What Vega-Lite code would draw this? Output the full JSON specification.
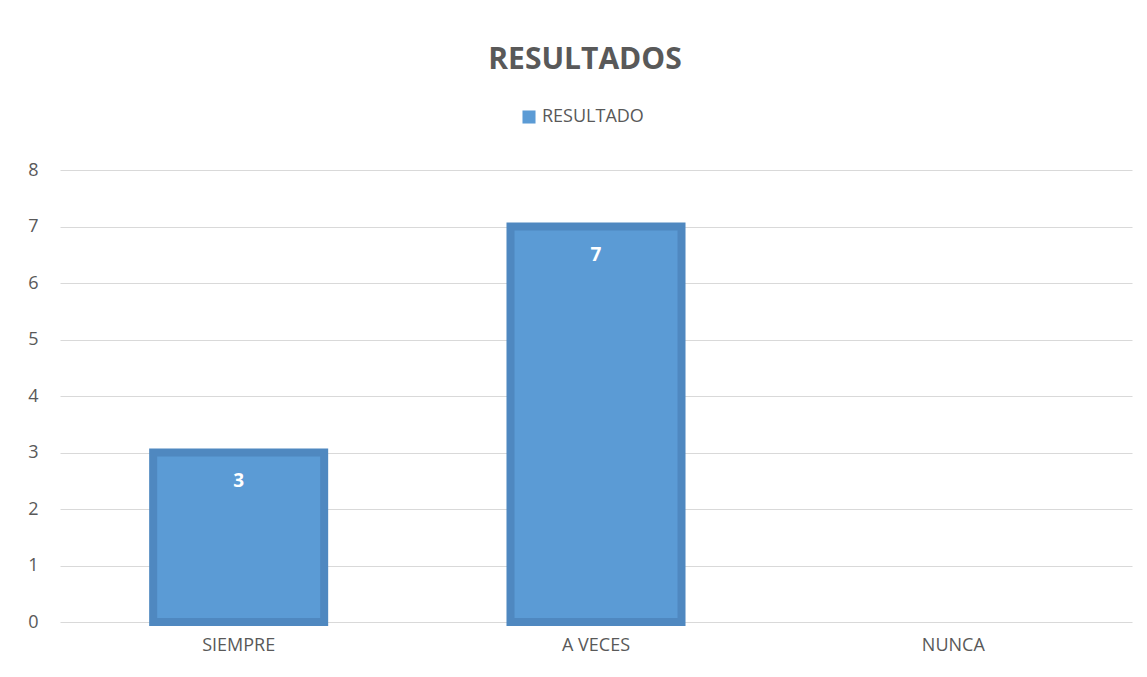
{
  "$schema": "https://vega.github.io/schema/vega-lite/v6.json",
  "autosize": "none",
  "width": 1072,
  "height": 452,
  "padding": {"left": 60, "top": 170, "right": 15, "bottom": 55},
  "background": "white",
  "title": {
    "text": "RESULTADOS",
    "anchor": "middle",
    "font": "Open Sans",
    "fontSize": 30,
    "fontWeight": "bold",
    "color": "#595959",
    "offset": 33,
    "dx": -11
  },
  "config": {
    "view": {"stroke": null},
    "font": "Open Sans"
  },
  "data": {
    "values": [
      {"categoria": "SIEMPRE", "valor": 3, "serie": "RESULTADO"},
      {"categoria": "A VECES", "valor": 7, "serie": "RESULTADO"},
      {"categoria": "NUNCA", "valor": 0, "serie": "RESULTADO"}
    ]
  },
  "encoding": {
    "x": {
      "field": "categoria",
      "type": "nominal",
      "sort": null,
      "scale": {"paddingInner": 0.5214, "paddingOuter": 0.2607},
      "axis": {
        "title": null,
        "labelAngle": 0,
        "labelFontSize": 18,
        "labelColor": "#595959",
        "labelPadding": 14,
        "ticks": false,
        "domain": false,
        "grid": false
      }
    },
    "y": {
      "field": "valor",
      "type": "quantitative",
      "scale": {"domain": [0, 8]},
      "axis": {
        "title": null,
        "values": [0, 1, 2, 3, 4, 5, 6, 7, 8],
        "labelFontSize": 18,
        "labelColor": "#595959",
        "labelPadding": 22,
        "ticks": false,
        "domain": false,
        "gridColor": "#d9d9d9",
        "gridWidth": 1.2
      }
    }
  },
  "layer": [
    {
      "mark": {"type": "bar", "stroke": "#4f88c0"},
      "encoding": {
        "strokeWidth": {
          "condition": {"test": "datum.valor == 0", "value": 0},
          "value": 8
        },
        "color": {
          "field": "serie",
          "type": "nominal",
          "scale": {"range": ["#5b9bd5"]},
          "legend": {
            "title": null,
            "orient": "none",
            "legendX": 460,
            "legendY": -62,
            "symbolType": "square",
            "symbolSize": 170,
            "symbolStrokeWidth": 0,
            "labelFontSize": 18,
            "labelColor": "#595959",
            "labelOffset": 4
          }
        }
      }
    },
    {
      "transform": [{"filter": "datum.valor > 0"}],
      "mark": {
        "type": "text",
        "color": "white",
        "fontSize": 19,
        "fontWeight": "bold",
        "baseline": "middle",
        "dy": 28
      },
      "encoding": {
        "text": {"field": "valor", "type": "quantitative"}
      }
    }
  ]
}
